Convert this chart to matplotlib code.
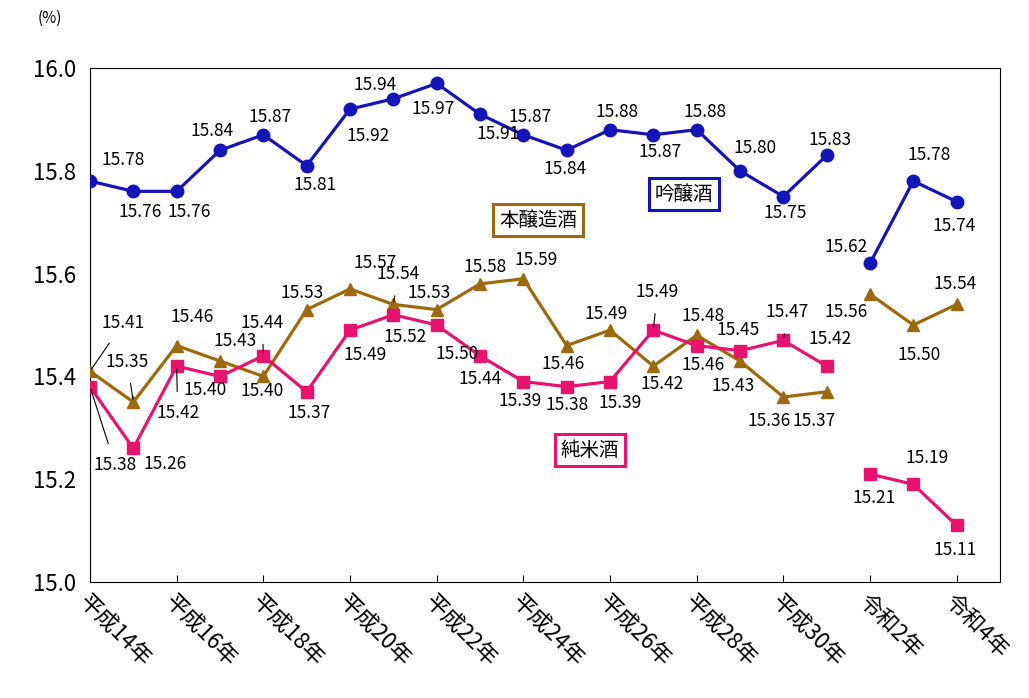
import matplotlib
matplotlib.use("Agg")
import matplotlib.pyplot as plt
import numpy as np

plt.rcParams['font.family'] = ['Noto Sans CJK JP', 'DejaVu Sans']

xlabels = ['平成14年', '平成16年', '平成18年', '平成20年', '平成22年', '平成24年',
           '平成26年', '平成28年', '平成30年', '令和2年', '令和4年']
ginjo = [15.78, 15.76, 15.76, 15.84, 15.87, 15.81, 15.92, 15.94, 15.97, 15.91, 15.87,
         15.84, 15.88, 15.87, 15.88, 15.80, 15.75, 15.83, 15.62, 15.78, 15.74]
honjozo = [15.41, 15.35, 15.46, 15.43, 15.40, 15.53, 15.57, 15.54, 15.53, 15.58, 15.59,
           15.46, 15.49, 15.42, 15.48, 15.43, 15.36, 15.37, 15.56, 15.50, 15.54]
junmai = [15.38, 15.26, 15.42, 15.40, 15.44, 15.37, 15.49, 15.52, 15.50, 15.44, 15.39,
          15.38, 15.39, 15.49, 15.46, 15.45, 15.47, 15.42, 15.21, 15.19, 15.11]
split = 18  # break between 令和元年 and 令和2年

# label offsets in pixels (dx, dy up)
off_g = [(33,21),(7,-21),(13,-21),(-8,19),(7,18),(8,-19),(18,-27),(-18,14),(-3,-26),(18,-20),
         (7,18),(-2,-19),(7,18),(7,-17),(8,18),(15,23),(2,-17),(3,15),(-24,16),(16,26),(-2,-24)]
off_h = [(33,48),(-6,40),(15,29),(15,20),(-1,-15),(-5,17),(25,26),(5,30),(-8,17),(5,17),
         (13,19),(-4,-18),(-4,16),(9,-18),(6,19),(-7,-25),(-14,-24),(-12,-29),(-24,-18),(6,-30),(-2,20)]
off_j = [(25,-78),(32,-16),(1,-47),(-15,-14),(-1,33),(3,-21),(15,-25),(12,-22),(20,-29),(0,-23),
         (-3,-19),(0,-18),(10,-21),(4,38),(6,-19),(-2,21),(4,28),(3,27),(4,-24),(14,26),(-2,-25)]
lead_h = {0, 1, 7}
lead_j = {0, 2, 4, 13, 16}

cg, ch, cj = '#1414b8', '#9c6a0c', '#e8136f'

fig = plt.figure(figsize=(10.29, 6.98), dpi=100)
ax = fig.add_axes([90/1029, 1-582/698, 910/1029, 514/698])
x = np.arange(len(ginjo))

def draw(vals, color, marker, ms, offs, leads):
    for seg in (slice(0, split), slice(split, None)):
        ax.plot(x[seg], vals[seg], color=color, lw=2.3, marker=marker, ms=ms, zorder=3)
    for i, v in enumerate(vals):
        dx, dy = offs[i]
        kw = {}
        if i in leads:
            kw['arrowprops'] = dict(arrowstyle='-', color='black', lw=0.8, shrinkA=7, shrinkB=2)
        ax.annotate(f'{v:.2f}', (i, v), xytext=(dx*0.72, dy*0.72), textcoords='offset points',
                    ha='center', va='center', fontsize=12.5, zorder=5, **kw)

draw(ginjo, cg, 'o', 9, off_g, set())
draw(honjozo, ch, '^', 9, off_h, lead_h)
draw(junmai, cj, 's', 8, off_j, lead_j)

ax.set_xlim(0, 21)
ax.set_ylim(15.0, 16.0)
ax.set_yticks(np.arange(15.0, 16.01, 0.2))
ax.set_yticklabels([f'{v:.1f}' for v in np.arange(15.0, 16.01, 0.2)], fontsize=16)
ax.set_xticks(np.arange(0, 21, 2))
ax.set_xticklabels(xlabels, rotation=-45, ha='left', va='top', fontsize=16,
                   rotation_mode='anchor')
ax.tick_params(axis='x', length=5, direction='in', pad=6)
ax.tick_params(axis='y', length=0, pad=10)

def box(txt, xp, yp, color):
    fig.text(xp/1029, 1-yp/698, txt, ha='center', va='center', fontsize=14,
             bbox=dict(boxstyle='square,pad=0.3', fc='white', ec=color, lw=2.2))
box('本醸造酒', 538, 220, ch)
box('吟醸酒', 684, 194, cg)
box('純米酒', 590, 450, cj)
fig.text(50/1029, 1-18/698, '(%)', ha='center', va='center', fontsize=11)

fig.savefig('out.png', dpi=100)
